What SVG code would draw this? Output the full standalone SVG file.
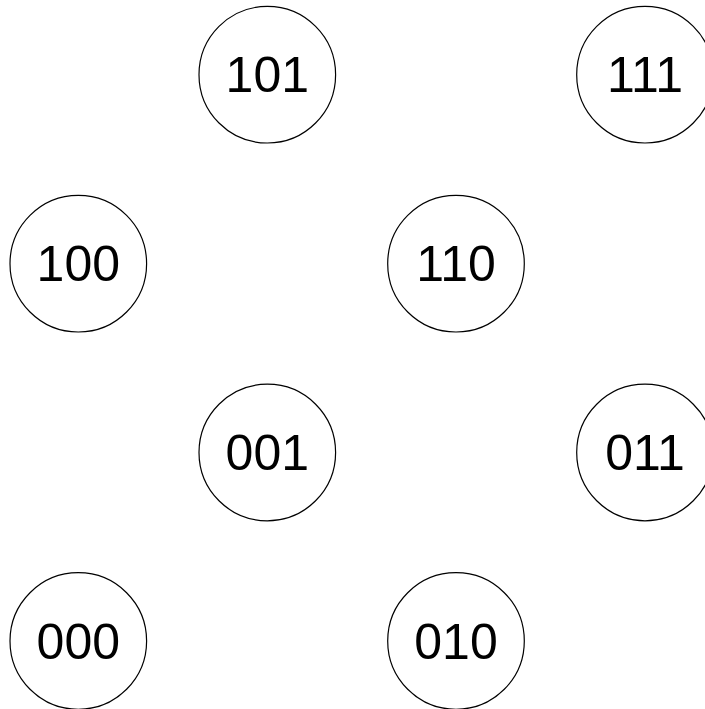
<svg xmlns="http://www.w3.org/2000/svg" width="705" height="709" viewBox="0 0 705 709">
<style>
.n circle{fill:#fff;stroke:#000;stroke-width:1.2}
.n text{font-family:"Liberation Sans",Arial,sans-serif;font-size:50px;text-anchor:middle;fill:#000}
</style>
<rect width="705" height="709" fill="#fff"/>
<g id="connectors"></g>
<g id="n101" class="n"><circle cx="267.3" cy="74.7" r="68.3"/><text x="267.3" y="92">101</text></g>
<g id="n111" class="n"><circle cx="645" cy="74.7" r="68.3"/><text x="645" y="92">111</text></g>
<g id="n100" class="n"><circle cx="78.3" cy="263.7" r="68.3"/><text x="78.3" y="281">100</text></g>
<g id="n110" class="n"><circle cx="456" cy="263.7" r="68.3"/><text x="456" y="281">110</text></g>
<g id="n001" class="n"><circle cx="267.3" cy="452.5" r="68.3"/><text x="267.3" y="470">001</text></g>
<g id="n011" class="n"><circle cx="645" cy="452.5" r="68.3"/><text x="645" y="470">011</text></g>
<g id="n000" class="n"><circle cx="78.3" cy="641" r="68.3"/><text x="78.3" y="658.5">000</text></g>
<g id="n010" class="n"><circle cx="456" cy="641" r="68.3"/><text x="456" y="658.5">010</text></g>
</svg>
